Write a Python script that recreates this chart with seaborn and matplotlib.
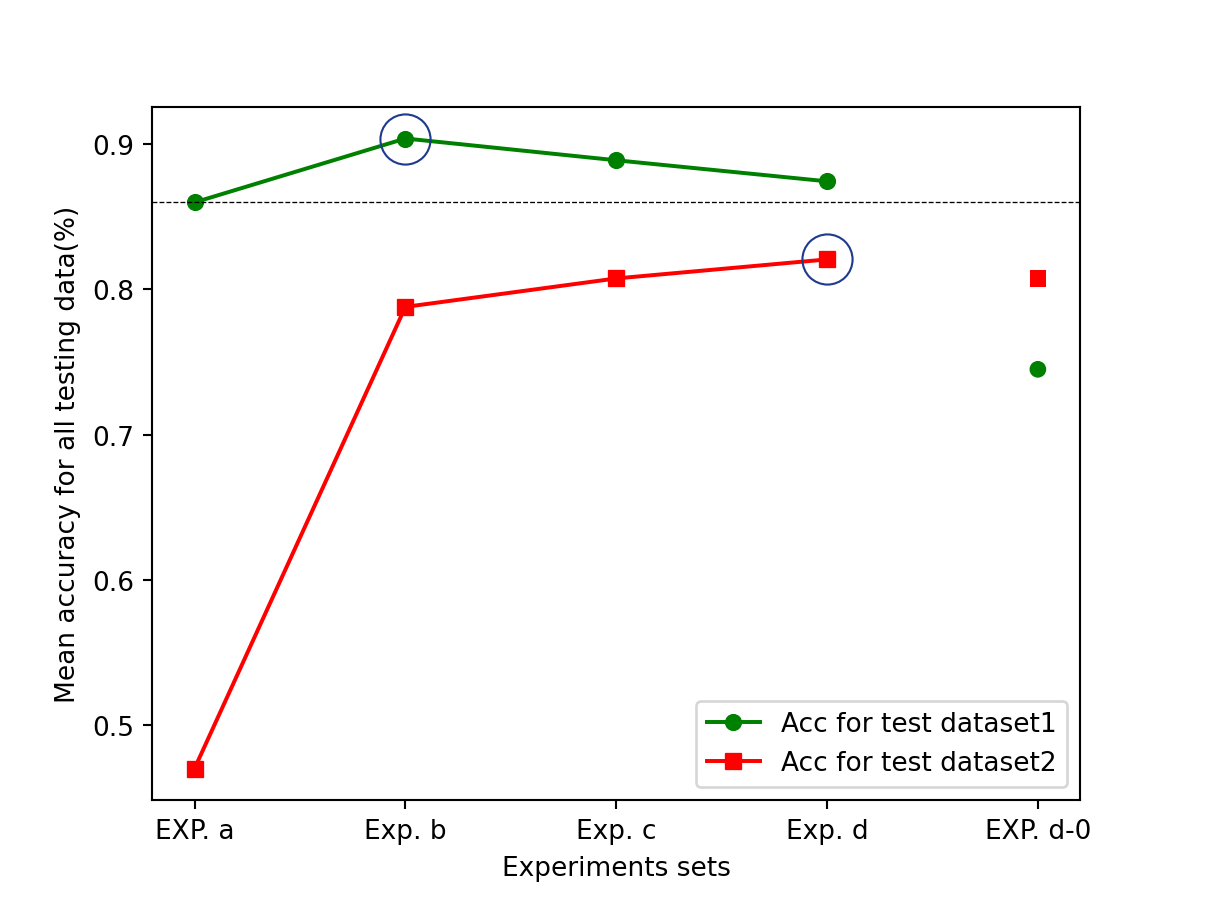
import pandas as pd
import matplotlib
matplotlib.use("Agg")
import matplotlib.pyplot as plt
import seaborn as sns

# values
experiments = ["EXP. a", "Exp. b", "Exp. c", "Exp. d", "EXP. d-0"]
acc_dataset1 = [0.860, 0.904, 0.889, 0.8745, 0.745]
acc_dataset2 = [0.470, 0.788, 0.8076, 0.8207, 0.8076]
baseline = 0.860
best1_idx = 1
best2_idx = 3

df = pd.DataFrame({
    "pos": range(len(experiments)),
    "exp": experiments,
    "acc1": acc_dataset1,
    "acc2": acc_dataset2,
})
connected = df.iloc[:4]
separate = df.iloc[4:]

fig = plt.figure(figsize=(1219 / 190, 900 / 190), dpi=190)
ax = fig.add_axes([0.125, 0.11, 0.761, 0.77])

sns.lineplot(data=connected, x="pos", y="acc1", color="green", marker="o",
             markersize=6, markeredgecolor="green", markeredgewidth=0.5,
             label="Acc for test dataset1", ax=ax)
sns.lineplot(data=connected, x="pos", y="acc2", color="red", marker="s",
             markersize=6, markeredgecolor="red", markeredgewidth=0.5,
             label="Acc for test dataset2", ax=ax)

# EXP. d-0 is not joined to the lines
sns.scatterplot(data=separate, x="pos", y="acc1", color="green", marker="o",
                s=40, edgecolor="none", legend=False, ax=ax)
sns.scatterplot(data=separate, x="pos", y="acc2", color="red", marker="s",
                s=40, edgecolor="none", legend=False, ax=ax)

ax.axhline(baseline, color="black", linestyle="--", linewidth=0.5)

# highlight circles on the best points
ax.plot(df["pos"][best1_idx], df["acc1"][best1_idx], marker="o", ms=19,
        mfc="none", mec="#1f3b8c", mew=0.8)
ax.plot(df["pos"][best2_idx], df["acc2"][best2_idx], marker="o", ms=19,
        mfc="none", mec="#1f3b8c", mew=0.8)

ax.set_xticks(df["pos"])
ax.set_xticklabels(experiments)
ax.set_xlabel("Experiments sets")
ax.set_ylabel("Mean accuracy for all testing data(%)")
ax.set_yticks([0.5, 0.6, 0.7, 0.8, 0.9])
ax.legend(loc="lower right")

fig.savefig("out.png", dpi=190)
